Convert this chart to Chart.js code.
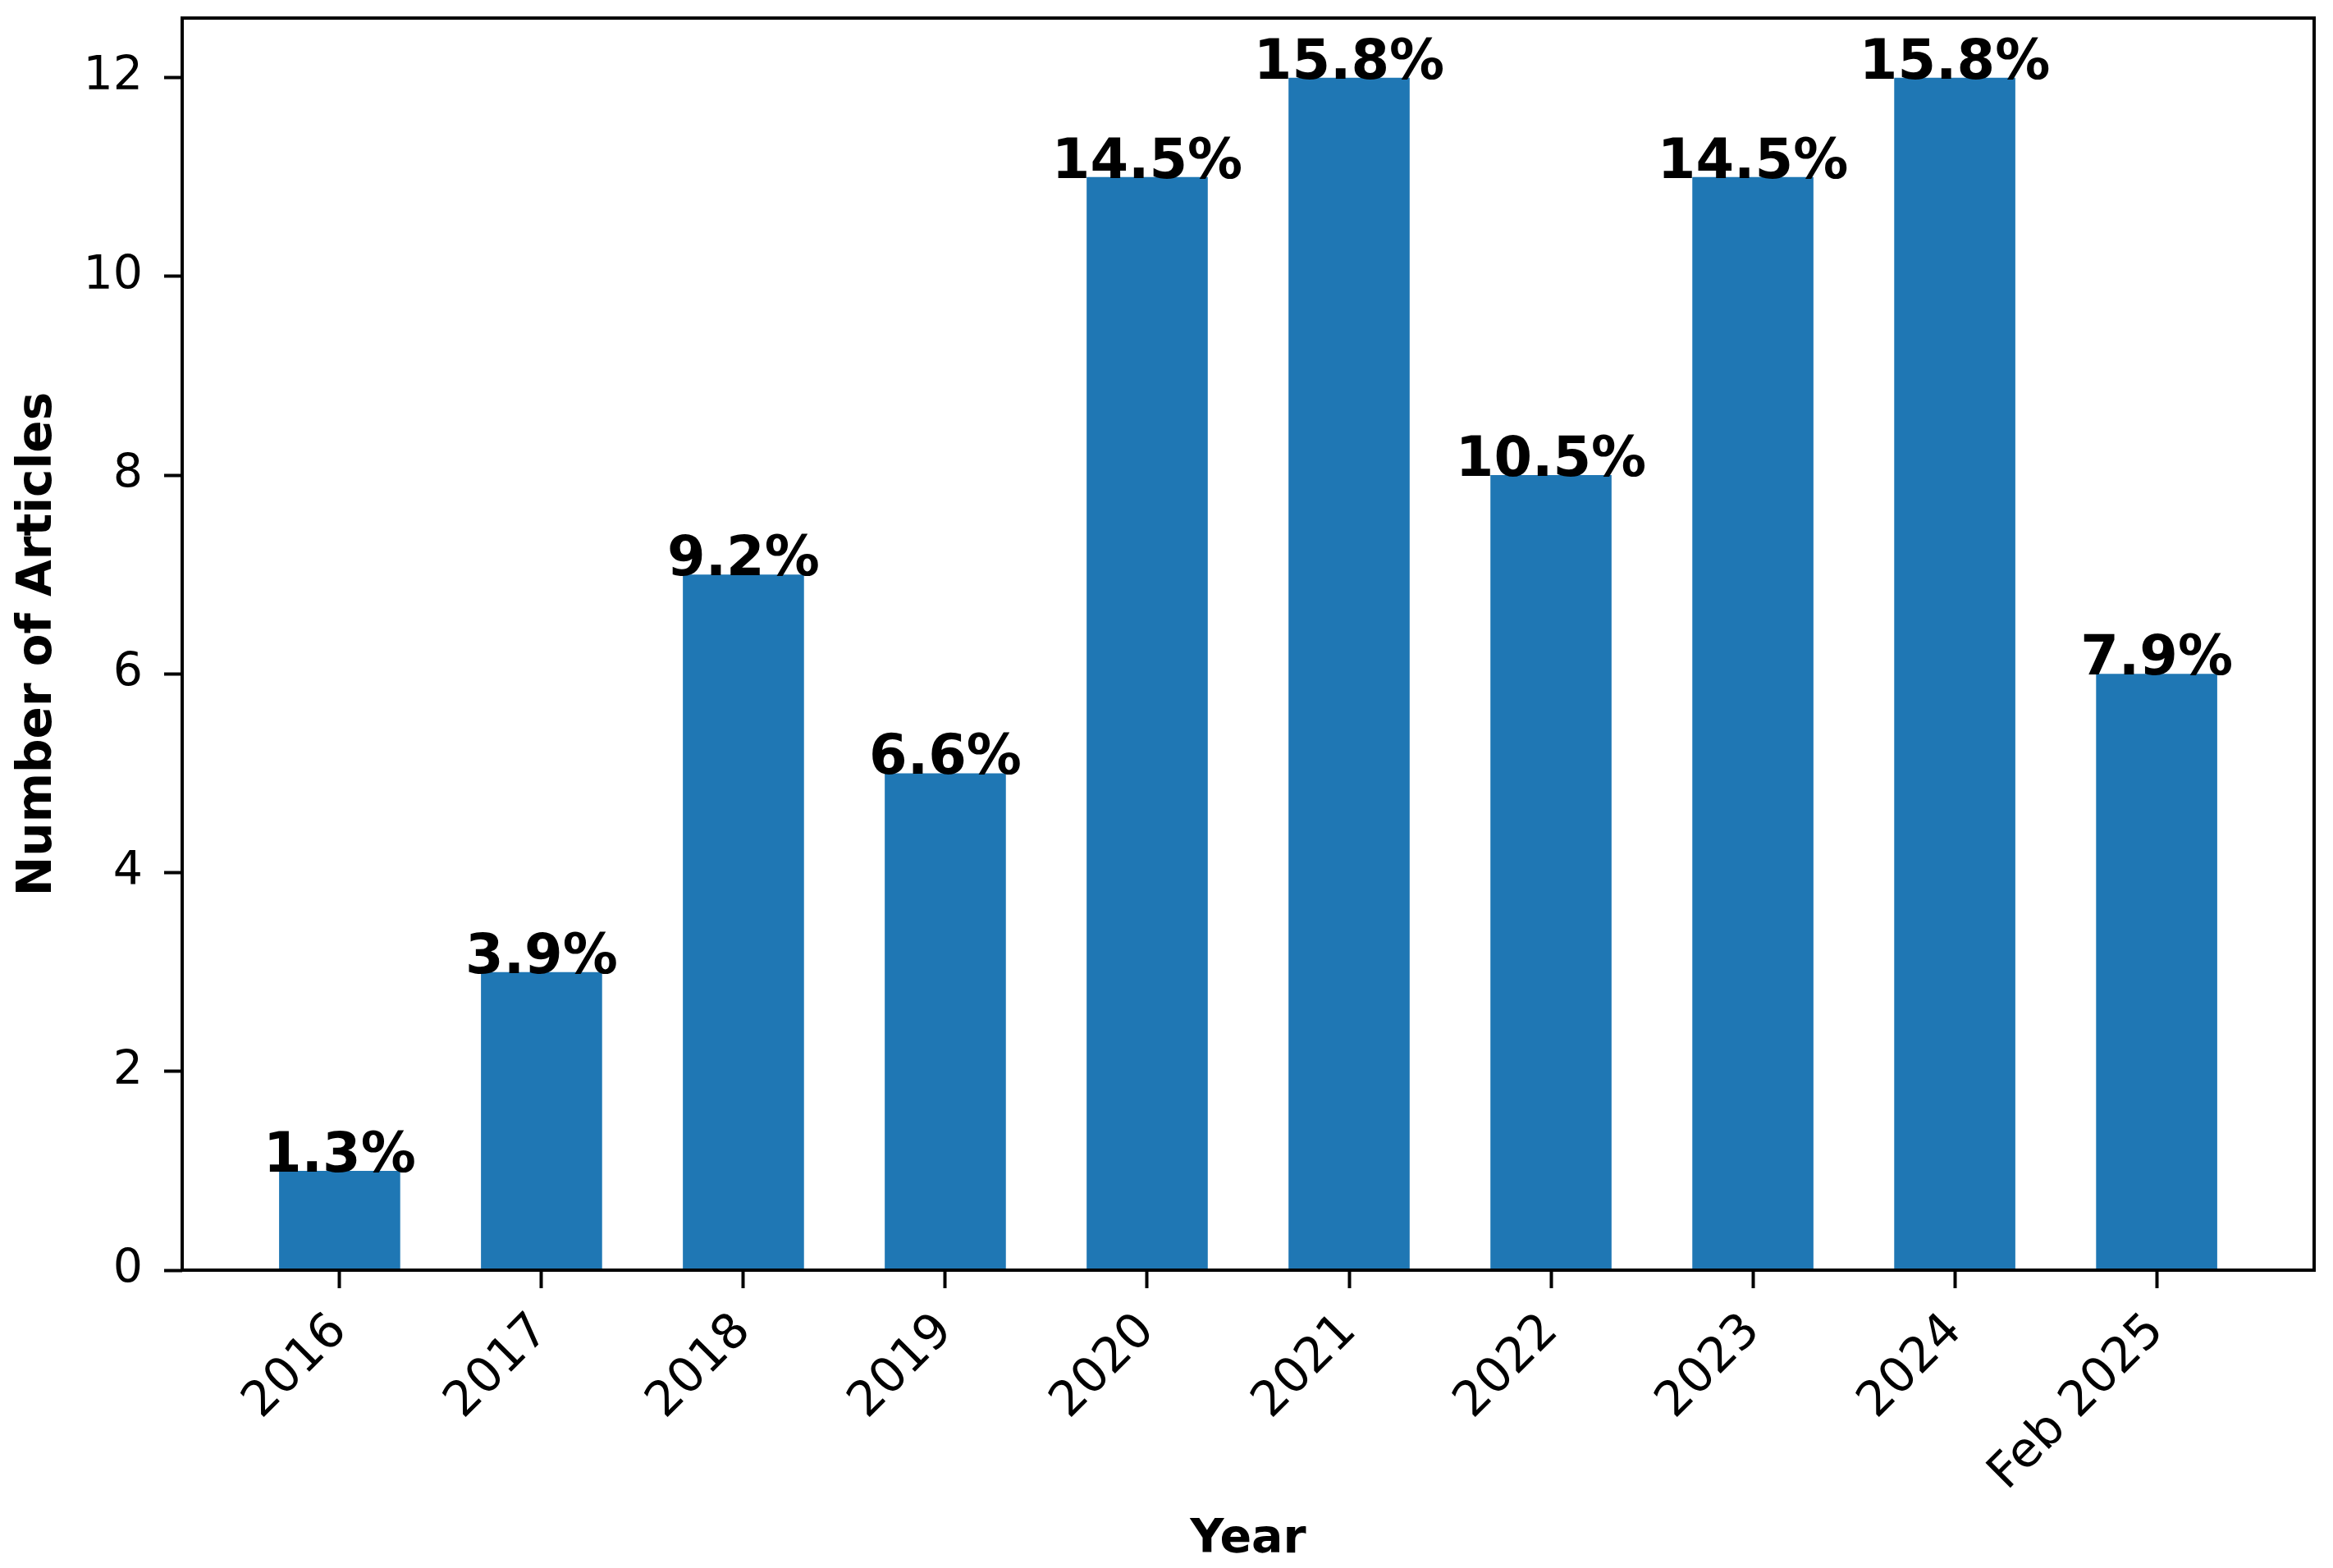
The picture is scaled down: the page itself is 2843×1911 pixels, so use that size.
<!DOCTYPE html>
<html>
<head>
<meta charset="utf-8">
<script src="https://cdn.jsdelivr.net/npm/chart.js@4/dist/chart.umd.min.js"></script>
<style>
  html, body { margin: 0; padding: 0; background: #fff; }
  canvas { display: block; }
</style>
</head>
<body>
<canvas id="chart" width="2843" height="1911"></canvas>
<script>
// Data
const years = ["2016", "2017", "2018", "2019", "2020", "2021", "2022", "2023", "2024", "Feb 2025"];
const articles = [1, 3, 7, 5, 11, 12, 8, 11, 12, 6];
const yTicks = [0, 2, 4, 6, 8, 10, 12];

const total = articles.reduce((a, b) => a + b, 0);
const percentLabels = articles.map((v) => (v / total * 100).toFixed(1) + "%");

const FONT = "'DejaVu Sans', 'Liberation Sans', sans-serif";

// box round the plot area, drawn above the bars like matplotlib spines
const frame = {
  id: "frame",
  afterDatasetsDraw(chart) {
    const { ctx, chartArea: a } = chart;
    ctx.save();
    ctx.strokeStyle = "#000";
    ctx.lineWidth = 4;
    ctx.strokeRect(a.left, a.top, a.right - a.left, a.bottom - a.top);
    ctx.restore();
  },
};

// percentage text on top of each bar
const barLabels = {
  id: "barLabels",
  afterDraw(chart) {
    const { ctx } = chart;
    const bars = chart.getDatasetMeta(0).data;
    ctx.save();
    ctx.font = "bold 67px " + FONT;
    ctx.fillStyle = "#000";
    ctx.textAlign = "center";
    ctx.textBaseline = "alphabetic";
    bars.forEach((bar, i) => {
      ctx.fillText(percentLabels[i], bar.x, bar.y + 1);
    });
    ctx.restore();
  },
};

Chart.defaults.color = "#000";
Chart.defaults.font.family = FONT;

const ctx = document.getElementById("chart").getContext("2d");
new Chart(ctx, {
  type: "bar",
  data: {
    datasets: [
      {
        label: "Number of Articles",
        data: articles.map((v, i) => ({ x: i, y: v })),
        backgroundColor: "#1f77b4",
        borderWidth: 0,
        categoryPercentage: 1,
        barPercentage: 0.6,
      },
    ],
  },
  options: {
    responsive: false,
    devicePixelRatio: 1,
    animation: false,
    layout: { padding: { left: 0, top: 22, right: 23, bottom: 0 } },
    plugins: {
      legend: { display: false },
      tooltip: { enabled: false },
    },
    scales: {
      x: {
        type: "linear",
        min: -0.78,
        max: 9.78,
        offset: false,
        afterBuildTicks: (scale) => {
          scale.ticks = years.map((_, i) => ({ value: i }));
        },
        afterFit: (scale) => {
          scale.height = 363;
          scale.paddingLeft = 0;
          scale.paddingRight = 0;
        },
        grid: {
          offset: false,
          drawOnChartArea: false,
          drawTicks: true,
          tickLength: 22,
          tickWidth: 4,
          tickColor: "#000",
        },
        border: { display: false },
        ticks: {
          autoSkip: false,
          maxRotation: 45,
          minRotation: 45,
          padding: 18,
          color: "#000",
          font: { size: 59 },
          callback: (value) => years[value],
        },
        title: {
          display: true,
          text: "Year",
          color: "#000",
          font: { size: 57, weight: "bold" },
          padding: { top: 11, bottom: 0 },
        },
      },
      y: {
        min: 0,
        max: 12.6,
        afterBuildTicks: (scale) => {
          scale.ticks = yTicks.map((v) => ({ value: v }));
        },
        afterFit: (scale) => {
          scale.width = 222;
          scale.paddingTop = 0;
          scale.paddingBottom = 0;
        },
        grid: {
          drawOnChartArea: false,
          drawTicks: true,
          tickLength: 22,
          tickWidth: 4,
          tickColor: "#000",
        },
        border: { display: false },
        ticks: {
          padding: 26,
          color: "#000",
          font: { size: 57 },
        },
        title: {
          display: true,
          text: "Number of Articles",
          color: "#000",
          font: { size: 58, weight: "bold" },
          padding: { top: 12, bottom: 0 },
        },
      },
    },
  },
  plugins: [frame, barLabels],
});
</script>
</body>
</html>
